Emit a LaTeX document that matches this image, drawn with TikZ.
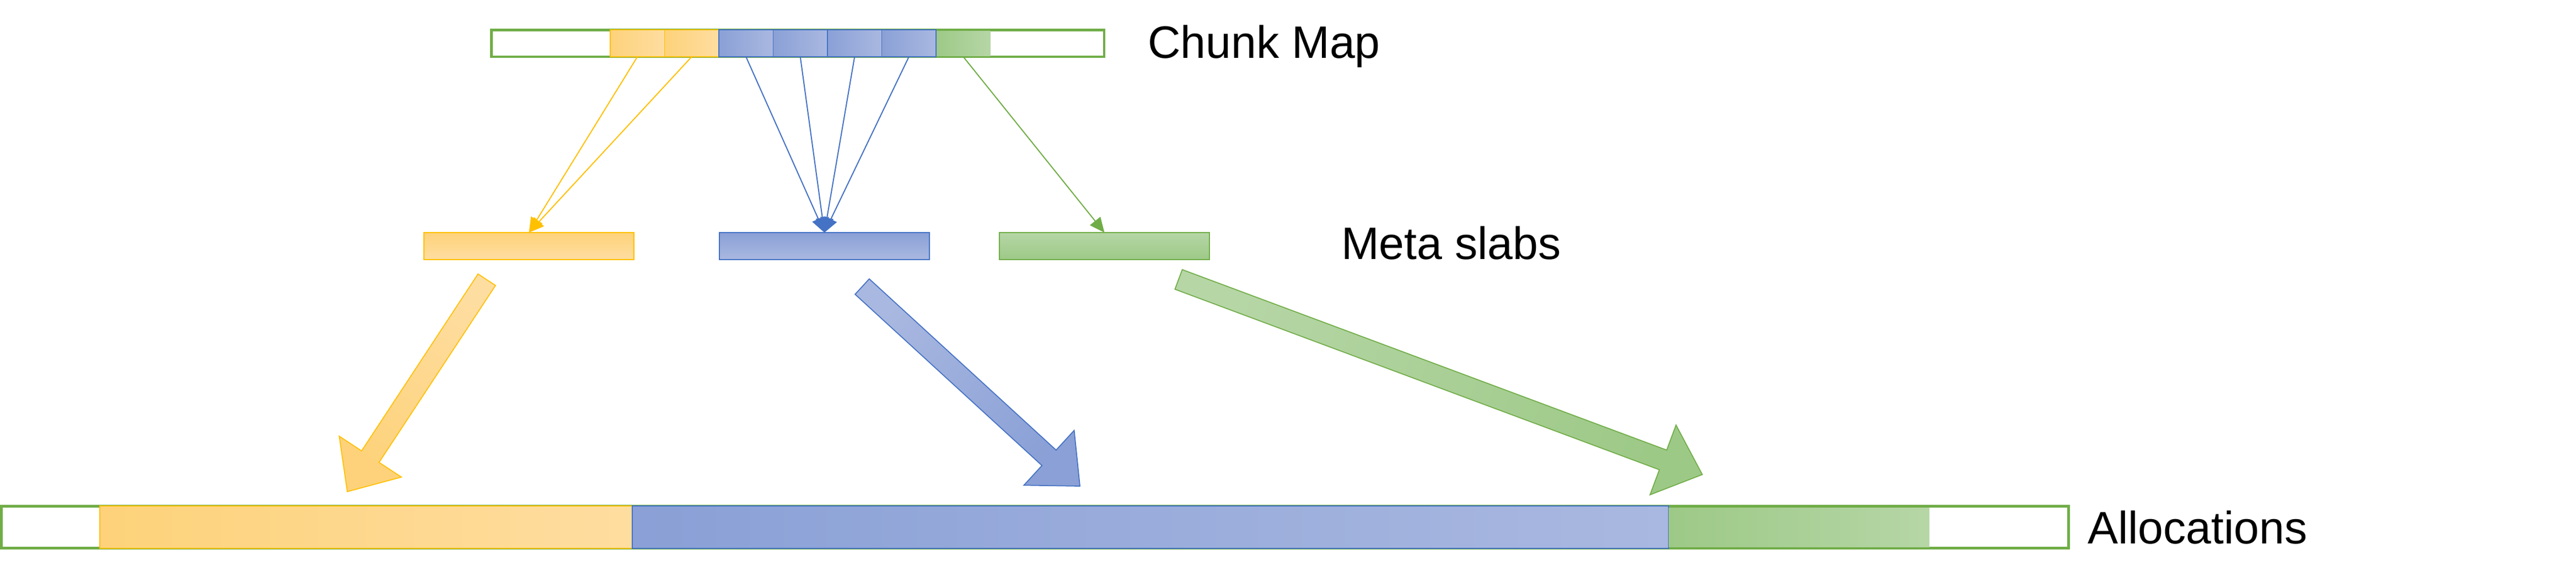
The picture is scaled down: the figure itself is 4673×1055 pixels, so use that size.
\documentclass[tikz,border=0pt]{standalone}
\usepackage{fontspec}
\setmainfont{Liberation Sans}
\usetikzlibrary{arrows.meta,calc}
\definecolor{oline}{HTML}{FFC000}
\definecolor{bline}{HTML}{4472C4}
\definecolor{gline}{HTML}{70AD47}
\definecolor{oA}{HTML}{FDD27A}
\definecolor{oB}{HTML}{FEDDA0}
\definecolor{bA}{HTML}{8AA0D6}
\definecolor{bB}{HTML}{A9B8E0}
\definecolor{gA}{HTML}{9DC987}
\definecolor{gB}{HTML}{B6D6A6}
\newcommand\blkarrow[6]{%
  \coordinate (#1h) at ($(#2)!15.2pt!(#1)$);
  \path[draw=#5, line width=0.35pt, bottom color=#3, top color=#4, shading angle=#6]
    ($(#1)!3.8pt!90:(#2)$) -- ($(#1h)!3.8pt!90:(#2)$) -- ($(#1h)!13.5pt!90:(#2)$) -- (#2)
    -- ($(#1h)!13.5pt!-90:(#2)$) -- ($(#1h)!3.8pt!-90:(#2)$) -- ($(#1)!3.8pt!-90:(#2)$) -- cycle;
}
\begin{document}
\begin{tikzpicture}[x=0.2pt,y=-0.2pt,
  bar/.style={rectangle, draw=gline, line width=0.9pt, fill=white, inner sep=0pt, outer sep=0pt},
  cellbox/.style={rectangle, inner sep=0pt, outer sep=0pt, minimum width=19.7pt, minimum height=9.8pt},
  ocell/.style={cellbox, draw=oline, line width=0.3pt, left color=oA, right color=oB},
  bcell/.style={cellbox, draw=bline, line width=0.3pt, left color=bA, right color=bB},
  gcell/.style={cellbox, minimum height=8.9pt, left color=gA, right color=gB},
  slab/.style={rectangle, inner sep=0pt, outer sep=0pt, minimum width=76.2pt, minimum height=9.8pt, line width=0.4pt},
  seg/.style={rectangle, inner sep=0pt, outer sep=0pt, minimum height=15.4pt, line width=0.4pt},
  lbl/.style={font=\fontsize{16.5pt}{20pt}\selectfont, inner sep=0pt, anchor=base west},
  thin/.style={line width=0.4pt, -{Triangle[length=5.4pt,width=4.8pt]}}]
\useasboundingbox (0,0) rectangle (4673,1055);

% Chunk map
\node[bar, minimum width=222.3pt, minimum height=9.7pt] (cm) at (1447,78.5) {};
\node[ocell] (o1) at (1156.25,78.5) {};
\node[ocell] (o2) at (1254.75,78.5) {};
\node[bcell] (b1) at (1353.25,78.5) {};
\node[bcell] (b2) at (1451.75,78.5) {};
\node[bcell] (b3) at (1550.25,78.5) {};
\node[bcell] (b4) at (1648.75,78.5) {};
\node[gcell] (g1) at (1747.25,78.75) {};
\draw[oline, line width=0.45pt] (o1.north west) rectangle (o2.south east);
\draw[bline, line width=0.45pt] (b1.north west) rectangle (b4.south east);
\node[lbl] (cmlabel) at (2081,105) {Chunk Map};

% Meta slabs
\node[slab, draw=oline, top color=oA, bottom color=oB] (os) at (959.5,446.5) {};
\node[slab, draw=bline, top color=bA, bottom color=bB] (bs) at (1495.5,446.5) {};
\node[slab, draw=gline, top color=gB, bottom color=gA] (gs) at (2003.5,446.5) {};
\node[lbl] (mslabel) at (2432,470) {Meta slabs};

% Thin connectors
\draw[thin, oline] (o1.south) -- (os.north);
\draw[thin, oline] (o2.south) -- (os.north);
\draw[thin, bline] (b1.south) -- (bs.north);
\draw[thin, bline] (b2.south) -- (bs.north);
\draw[thin, bline] (b3.south) -- (bs.north);
\draw[thin, bline] (b4.south) -- (bs.north);
\draw[thin, gline] (g1.south |- cm.south) -- (gs.north);

% Big block arrows
\coordinate (oT) at (883,507.5);
\coordinate (oP) at (630,892);
\coordinate (bT) at (1564,520);
\coordinate (bP) at (1959,882);
\coordinate (gT) at (2138,507);
\coordinate (gP) at (3088,861);
\blkarrow{oT}{oP}{oB}{oA}{oline}{146.7}
\blkarrow{bT}{bP}{bB}{bA}{bline}{-132.5}
\blkarrow{gT}{gP}{gB}{gA}{gline}{-110.4}

% Allocations
\node[bar, minimum width=750.06pt, minimum height=15.24pt] (al) at (1877.5,956.5) {};
\node[seg, draw=oline, left color=oA, right color=oB, minimum width=193.2pt] (ao) at (664,956.5) {};
\node[seg, draw=bline, left color=bA, right color=bB, minimum width=376pt] (ab) at (2087,956.5) {};
\node[seg, left color=gA, right color=gB, minimum width=94.6pt, minimum height=14.2pt] (ag) at (3263.5,956.5) {};
\node[lbl] (allabel) at (3786,986) {Allocations};
\end{tikzpicture}
\end{document}
